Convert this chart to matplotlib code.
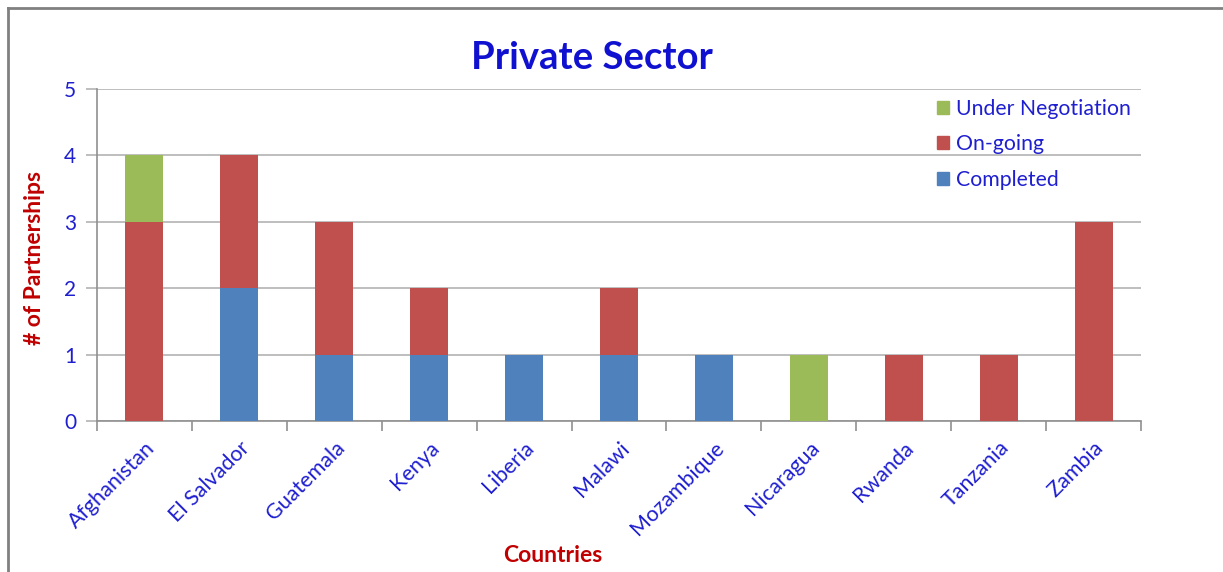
import matplotlib
matplotlib.use("Agg")
import matplotlib.pyplot as plt
from matplotlib.lines import Line2D
from matplotlib.patches import Patch
import numpy as np

countries = ["Afghanistan", "El Salvador", "Guatemala", "Kenya", "Liberia", "Malawi",
             "Mozambique", "Nicaragua", "Rwanda", "Tanzania", "Zambia"]
completed = [0, 2, 1, 1, 1, 1, 1, 0, 0, 0, 0]
ongoing = [3, 2, 2, 1, 0, 1, 0, 0, 1, 1, 3]
negotiation = [1, 0, 0, 0, 0, 0, 0, 1, 0, 0, 0]
yticks = [0, 1, 2, 3, 4, 5]

c_blue = "#4F81BD"
c_red = "#C0504D"
c_green = "#9BBB59"
txt_blue = "#1F1FD0"
dark_red = "#C00000"
grid_c = "#B3B3B3"

plt.rcParams['font.family'] = ['Lato', 'DejaVu Sans']

fig = plt.figure(figsize=(12.23, 5.72), dpi=100)
ax = fig.add_axes([97/1223, 1 - 421/572, (1141-97)/1223, (421-89)/572])

x = np.arange(len(countries))
comp = np.array(completed)
ong = np.array(ongoing)
neg = np.array(negotiation)
w = 0.4
ax.bar(x, comp, w, color=c_blue, zorder=3)
ax.bar(x, ong, w, bottom=comp, color=c_red, zorder=3)
ax.bar(x, neg, w, bottom=comp + ong, color=c_green, zorder=3)

ax.set_xlim(-0.5, len(countries) - 0.5)
ax.set_ylim(0, 5)
ax.set_yticks(yticks)
ax.yaxis.grid(True, color=grid_c, linewidth=1.2, zorder=0)
ax.set_axisbelow(True)

ax.set_xticks(np.arange(len(countries) + 1) - 0.5)
ax.set_xticklabels([])
ax.set_xticks(x, minor=True)
ax.set_xticklabels(countries, minor=True, rotation=45, ha='right', va='top',
                   rotation_mode='anchor', color=txt_blue, fontsize=15.5)
ax.tick_params(axis='x', which='minor', length=0, pad=12)
ax.tick_params(axis='x', which='major', length=7, color='#909090', width=1.2)
ax.tick_params(axis='y', length=8, color=grid_c, width=1.2, labelcolor=txt_blue,
               labelsize=15, pad=7)

for s in ['top', 'right']:
    ax.spines[s].set_visible(False)
ax.spines['left'].set_color('#909090')
ax.spines['bottom'].set_color('#909090')
ax.spines['left'].set_linewidth(1.2)
ax.spines['bottom'].set_linewidth(1.2)

fig.text(592/1223, 1 - 58/572, "Private Sector", ha='center', va='center',
         fontsize=27.5, fontweight='bold', color='#1010D0')
fig.text(35/1223, 1 - 258/572, "# of Partnerships", ha='center', va='center',
         rotation=90, fontsize=16.5, fontweight='bold', color=dark_red)
fig.text(553/1223, 1 - 555/572, "Countries", ha='center', va='center',
         fontsize=16.5, fontweight='bold', color=dark_red)

handles = [Patch(color=c_green, label="Under Negotiation"),
           Patch(color=c_red, label="On-going"),
           Patch(color=c_blue, label="Completed")]
leg = ax.legend(handles=handles, loc='upper left', bbox_to_anchor=(937/1223, 1 - 99/572),
                bbox_transform=fig.transFigure, frameon=False, fontsize=15.3,
                handlelength=0.57, handleheight=0.57, handletextpad=0.33,
                labelspacing=0.72, borderpad=0, borderaxespad=0)
for t in leg.get_texts():
    t.set_color(txt_blue)

fig.add_artist(Line2D([8/1223, 8/1223], [0, 1 - 8/572], transform=fig.transFigure,
                      color='#808080', linewidth=2))
fig.add_artist(Line2D([8/1223, 1], [1 - 8/572, 1 - 8/572], transform=fig.transFigure,
                      color='#808080', linewidth=2))

fig.savefig("out.png", dpi=100)
